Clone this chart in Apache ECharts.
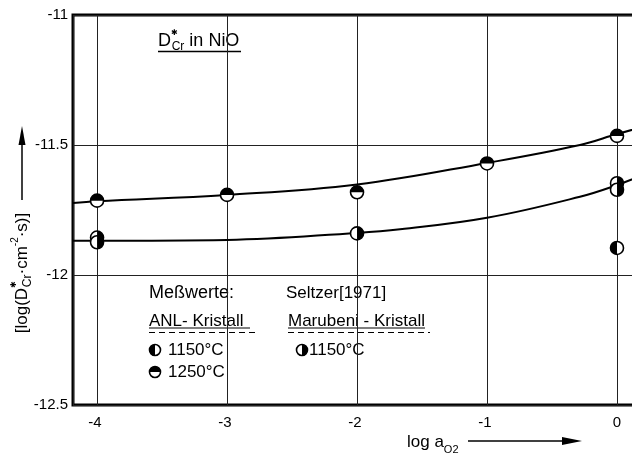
<!DOCTYPE html>
<html><head><meta charset="utf-8">
<script src="https://cdn.jsdelivr.net/npm/echarts@6/dist/echarts.min.js"></script>
<style>html,body{margin:0;padding:0;background:#fff}#c{width:632px;height:456px}</style>
</head><body><div id="c"></div>
<script>
// ---- data ----
const yTicks = [-12.5, -12, -11.5, -11];
const xTicks = [-4, -3, -2, -1, 0];
// ANL crystal 1250 °C (top half filled)
const anl1250X = [-4, -3, -2, -1, 0];
const anl1250Y = [-11.714, -11.692, -11.682, -11.571, -11.465];
// ANL crystal 1150 °C
const anl1150X = [-4, -4, -2, 0, 0];
const anl1150Y = [-11.856, -11.874, -11.840, -11.647, -11.672];
// Seltzer [1971] Marubeni crystal 1150 °C
const maruX = [0];
const maruY = [-11.896];
// drawn fit curves
const fitUpperX = [-4.185, -4, -3, -2, -1, -0.285, 0, 0.2];
const fitUpperY = [-11.723, -11.716, -11.692, -11.652, -11.569, -11.500, -11.458, -11.430];
const fitLowerX = [-4.185, -4, -3, -2, -1.669, -1, -0.285, 0, 0.2];
const fitLowerY = [-11.868, -11.868, -11.865, -11.838, -11.824, -11.780, -11.699, -11.654, -11.615];

const FONT = "'Liberation Sans',Arial,sans-serif";
const zip = (a, b) => a.map((v, i) => [v, b[i]]);

function halfMarker(start, end) {
  return function (params, api) {
    const p = api.coord([api.value(0), api.value(1)]);
    const r = 6.5;
    return {
      type: 'group',
      children: [
        { type: 'circle', shape: { cx: p[0], cy: p[1], r: r }, style: { fill: '#fff', stroke: '#000', lineWidth: 1.6 } },
        { type: 'sector', shape: { cx: p[0], cy: p[1], r0: 0, r: r, startAngle: start, endAngle: end, clockwise: true }, style: { fill: '#000' } }
      ]
    };
  };
}
const PI = Math.PI;
const TOP = [PI, 2 * PI], LEFT = [PI / 2, 3 * PI / 2], RIGHT = [-PI / 2, PI / 2];

function legendMarker(x, y, ang) {
  return [
    { type: 'circle', shape: { cx: x, cy: y, r: 5.5 }, style: { fill: '#fff', stroke: '#000', lineWidth: 1.6 } },
    { type: 'sector', shape: { cx: x, cy: y, r0: 0, r: 5.5, startAngle: ang[0], endAngle: ang[1], clockwise: true }, style: { fill: '#000' } }
  ];
}

const chart = echarts.init(document.getElementById('c'), null, { renderer: 'canvas' });
const txt = (x, y, text, size, extra) => Object.assign({ type: 'text', x: x, y: y, style: Object.assign({ text: text, font: size + 'px ' + FONT, fill: '#000', verticalAlign: 'middle' }, extra || {}) });

chart.setOption({
  animation: false,
  backgroundColor: '#fff',
  grid: { left: 73, top: 15, height: 390, width: 570, outerBoundsMode: 'none', containLabel: false,
          show: true, borderColor: '#000', borderWidth: 3, backgroundColor: 'transparent' },
  xAxis: {
    type: 'value', min: -4.185, max: 0.2,
    axisLine: { show: false }, axisTick: { show: false },
    splitLine: { show: true, lineStyle: { color: '#222', width: 1 } },
    axisLabel: {
      showMinLabel: false, showMaxLabel: false, margin: 10,
      color: '#000', fontSize: 15, fontFamily: FONT,
      formatter: v => xTicks.includes(v) ? (v < 0 ? String(v) + ' ' : String(v)) : ''
    }
  },
  yAxis: {
    type: 'value', min: yTicks[0], max: yTicks[yTicks.length - 1], interval: 0.5,
    axisLine: { show: false }, axisTick: { show: false },
    splitLine: { show: true, lineStyle: { color: '#222', width: 1 } },
    axisLabel: { margin: 5, color: '#000', fontSize: 15, fontFamily: FONT, formatter: v => String(v), padding: [4, 0, 0, 0] }
  },
  series: [
    { type: 'line', data: zip(fitUpperX, fitUpperY), smooth: 0.4, showSymbol: false, lineStyle: { color: '#000', width: 2 }, z: 3 },
    { type: 'line', data: zip(fitLowerX, fitLowerY), smooth: 0.4, showSymbol: false, lineStyle: { color: '#000', width: 2 }, z: 3 },
    { type: 'custom', data: zip(anl1250X, anl1250Y), renderItem: halfMarker(TOP[0], TOP[1]), z: 5 },
    { type: 'custom', data: zip(anl1150X, anl1150Y), renderItem: halfMarker(RIGHT[0], RIGHT[1]), z: 5 },
    { type: 'custom', data: zip(maruX, maruY), renderItem: halfMarker(LEFT[0], LEFT[1]), z: 5 }
  ],
  graphic: [{
    type: 'group', z: 10,
    children: [
      // white cut-outs behind the inscriptions
      { type: 'rect', shape: { x: 150, y: 22, width: 98, height: 40 }, style: { fill: '#fff' } },
      { type: 'rect', shape: { x: 140, y: 277, width: 125, height: 115 }, style: { fill: '#fff' } },
      { type: 'rect', shape: { x: 280, y: 277, width: 155, height: 88 }, style: { fill: '#fff' } },
      // title
      { type: 'text', x: 158, y: 41, style: {
          text: '{m|D}{sup|✱}{sub|Cr}{m| in NiO}', fill: '#000', verticalAlign: 'middle',
          rich: {
            m: { font: '18px ' + FONT, lineHeight: 24, verticalAlign: 'middle' },
            sup: { font: 'bold 8px DejaVu Sans', lineHeight: 24, verticalAlign: 'top' },
            sub: { font: '12px ' + FONT, lineHeight: 24, verticalAlign: 'bottom', padding: [0, 0, 0, -6] }
          } } },
      { type: 'line', shape: { x1: 158, y1: 51.5, x2: 241, y2: 51.5 }, style: { stroke: '#000', lineWidth: 1.5 } },
      // legend
      txt(149, 293, 'Meßwerte:', 18),
      txt(149, 321, 'ANL- Kristall', 17),
      { type: 'line', shape: { x1: 149, y1: 328, x2: 250, y2: 328 }, style: { stroke: '#000', lineWidth: 1.2 } },
      { type: 'line', shape: { x1: 149, y1: 332.5, x2: 259, y2: 332.5 }, style: { stroke: '#000', lineWidth: 1.2, lineDash: [6, 4] } },
      ...legendMarker(155, 350, LEFT),
      txt(168, 350, '1150°C', 17),
      ...legendMarker(155, 372, TOP),
      txt(168, 372, '1250°C', 17),
      txt(286, 293, 'Seltzer[1971]', 17),
      txt(288, 321, 'Marubeni - Kristall', 17),
      { type: 'line', shape: { x1: 288, y1: 328, x2: 425, y2: 328 }, style: { stroke: '#000', lineWidth: 1.2 } },
      { type: 'line', shape: { x1: 288, y1: 332.5, x2: 430, y2: 332.5 }, style: { stroke: '#000', lineWidth: 1.2, lineDash: [6, 4] } },
      ...legendMarker(302, 350, RIGHT),
      txt(309, 350, '1150°C', 17),
      // x axis title with arrow
      { type: 'text', x: 407, y: 442, style: {
          text: '{m|log a}{sub|O2}', fill: '#000', verticalAlign: 'middle',
          rich: {
            m: { font: '17px ' + FONT, lineHeight: 26, verticalAlign: 'middle' },
            sub: { font: '11px ' + FONT, lineHeight: 26, verticalAlign: 'bottom' }
          } } },
      { type: 'line', shape: { x1: 468, y1: 441, x2: 570, y2: 441 }, style: { stroke: '#000', lineWidth: 1.5 } },
      { type: 'polygon', shape: { points: [[582, 441], [562, 437], [562, 445]] }, style: { fill: '#000' } },
      // y axis title with arrow
      { type: 'text', x: 22, y: 273, rotation: PI / 2, style: {
          text: '{m|[log(D}{sup|✱}{sub|Cr}{m|·cm}{sup2|-2}{m|·s)]}', fill: '#000', align: 'center', verticalAlign: 'middle',
          rich: {
            m: { font: '17px ' + FONT, lineHeight: 24, verticalAlign: 'middle' },
            sup: { font: 'bold 8px DejaVu Sans', lineHeight: 24, verticalAlign: 'top' },
            sup2: { font: '10px ' + FONT, lineHeight: 24, verticalAlign: 'top' },
            sub: { font: '12px ' + FONT, lineHeight: 24, verticalAlign: 'bottom', padding: [0, 0, 0, -6] }
          } } },
      { type: 'line', shape: { x1: 22, y1: 200, x2: 22, y2: 138 }, style: { stroke: '#000', lineWidth: 1.5 } },
      { type: 'polygon', shape: { points: [[22, 126], [18.5, 145], [25.5, 145]] }, style: { fill: '#000' } }
    ]
  }]
});
</script></body></html>
